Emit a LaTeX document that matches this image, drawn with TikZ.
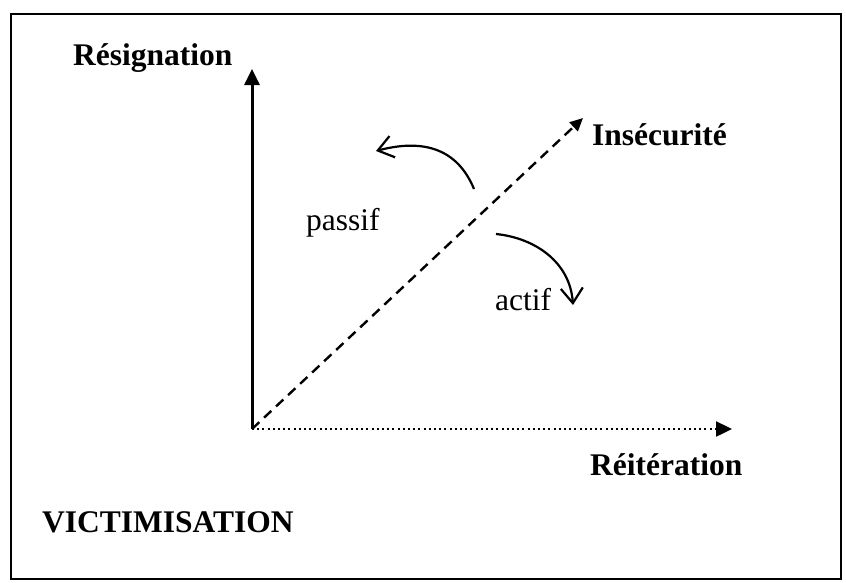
\documentclass[tikz,border=0pt]{standalone}
\usepackage{fontspec}
\setmainfont{Liberation Serif}
\usetikzlibrary{arrows.meta}
\begin{document}
\begin{tikzpicture}[x=1pt,y=-1pt,
  lbl/.style={font=\fontsize{31.5}{36}\selectfont\bfseries, inner sep=0pt, anchor=base west},
  txt/.style={font=\fontsize{31.5}{36}\selectfont, inner sep=0pt, anchor=base west},
  axis/.style={line width=3pt, -{Triangle[length=16pt,width=15pt]}},
  curvarrow/.style={line width=2.2pt, -{Straight Barb[length=15pt,width=22pt,line width=2.2pt]}}]
\useasboundingbox (0,0) rectangle (846,582);
\draw[line width=2pt] (11,14) rectangle (841,579);
\coordinate (o) at (252,429);
\coordinate (ytop) at (252,69);
\coordinate (xend) at (732,429);
\coordinate (dend) at (583,118);
\draw[axis] (o) -- (ytop);
\draw[line width=2.4pt, dash pattern=on 2pt off 3.2pt, -{Triangle[length=16pt,width=15pt]}] (o) -- (xend);
\draw[line width=2.4pt, dash pattern=on 10pt off 6.5pt, -{Triangle[length=13pt,width=12pt]}] (o) -- (dend);
\node[lbl] (res) at (73,65) {Résignation};
\node[lbl] (ins) at (592,145) {Insécurité};
\node[lbl] (rei) at (590,475) {Réitération};
\node[lbl] (vic) at (42,532) {VICTIMISATION};
\node[txt] (pas) at (306,230) {passif};
\node[txt] (act) at (495,310) {actif};
\coordinate (p1) at (474,189);
\coordinate (p2) at (376,151);
\coordinate (a1) at (496,234);
\coordinate (a2) at (573,305);
\draw[curvarrow] (p1) .. controls (458,150) and (425,138) .. (p2);
\draw[curvarrow] (a1) .. controls (535,238) and (570,262) .. (a2);
\end{tikzpicture}
\end{document}
